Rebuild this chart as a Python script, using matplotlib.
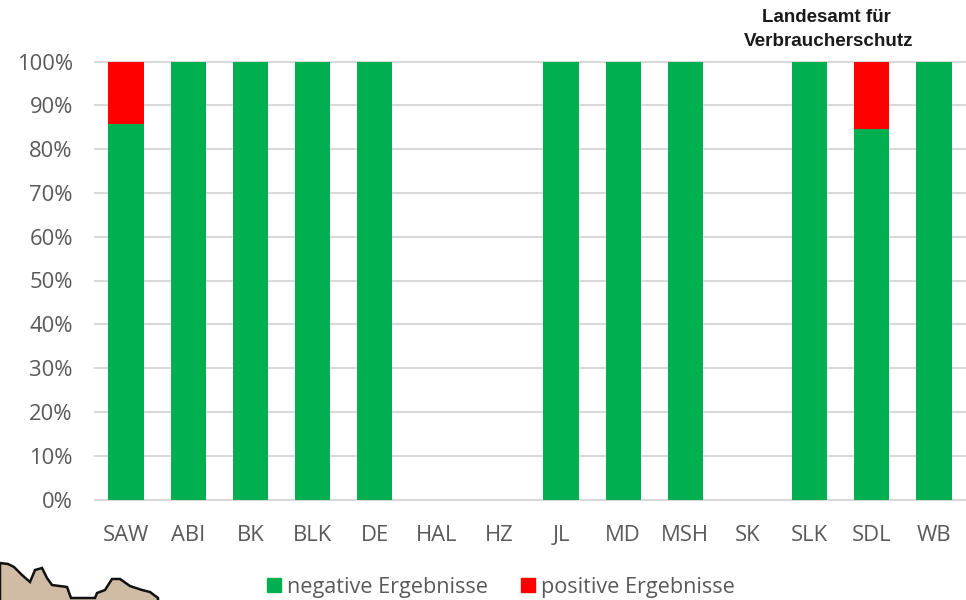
import matplotlib
matplotlib.use('Agg')
import matplotlib.pyplot as plt
from matplotlib.patches import Patch, Polygon

# values, percent per district
districts = ['SAW', 'ABI', 'BK', 'BLK', 'DE', 'HAL', 'HZ', 'JL', 'MD', 'MSH', 'SK', 'SLK', 'SDL', 'WB']
negative = [85.7, 100, 100, 100, 100, 0, 0, 100, 100, 100, 0, 100, 84.6, 100]
positive = [14.3, 0, 0, 0, 0, 0, 0, 0, 0, 0, 0, 0, 15.4, 0]

# map fragment in the lower left corner, figure pixels
map_x = [0, 8, 14, 22, 30, 35, 42, 47, 52, 67, 71, 95, 97, 105, 112, 120, 130, 142, 150, 158, 158, 0]
map_y = [563, 564, 567, 575, 582, 570, 568, 578, 585, 587, 598, 598, 593, 590, 579, 579, 586, 590, 592, 598, 603, 603]

W, H = 966, 600

plt.rcParams['font.family'] = ['Open Sans', 'DejaVu Sans']

fig = plt.figure(figsize=(W / 100, H / 100), dpi=100)
ax = fig.add_axes([95 / W, 1 - 499.5 / H, (965 - 95) / W, (499.5 - 61.5) / H])

xs = list(range(len(districts)))
ax.bar(xs, negative, width=0.57, color='#00b050', zorder=3)
ax.bar(xs, positive, width=0.57, bottom=negative, color='#ff0000', zorder=3)

ax.set_xlim(-0.5, 13.5)
ax.set_ylim(0, 100)
ax.set_yticks(range(0, 101, 10))
ax.set_yticklabels([f'{v}%' for v in range(0, 101, 10)], fontsize=15.8, color='#595959')
ax.set_xticks(xs)
ax.set_xticklabels(districts, fontsize=15.8, color='#595959')
ax.tick_params(length=0)
ax.tick_params(axis='x', pad=18.5)
ax.tick_params(axis='y', pad=16)
ax.grid(axis='y', color='#d9d9d9', linewidth=1.5, zorder=0, clip_on=False)
for side in ['top', 'right', 'left']:
    ax.spines[side].set_visible(False)
ax.spines['bottom'].set_color('#d9d9d9')
ax.spines['bottom'].set_linewidth(1.5)

handles = [Patch(color='#00b050'), Patch(color='#ff0000')]
fig.legend(handles, ['negative Ergebnisse', 'positive Ergebnisse'], loc='center',
           bbox_to_anchor=(501 / W, 1 - 587 / H), ncol=2, frameon=False,
           labelcolor='#595959', handlelength=0.65, handleheight=0.65, handletextpad=0.3,
           columnspacing=1.5, prop={'family': 'Open Sans', 'size': 15.6})

fig.text(826.5 / W, 1 - 17.5 / H, 'Landesamt für', ha='center', va='center', fontsize=13.5,
         fontweight='bold', family='Liberation Sans', color='#1a1a1a')
fig.text(828.5 / W, 1 - 41.5 / H, 'Verbraucherschutz', ha='center', va='center', fontsize=13.6,
         fontweight='bold', family='Liberation Sans', color='#1a1a1a')

poly = Polygon([[x / W, 1 - y / H] for x, y in zip(map_x, map_y)], closed=True,
               facecolor='#d0bba5', edgecolor='#111111', linewidth=1.8,
               transform=fig.transFigure, clip_on=False)
fig.add_artist(poly)

fig.savefig('out.png', dpi=100)
